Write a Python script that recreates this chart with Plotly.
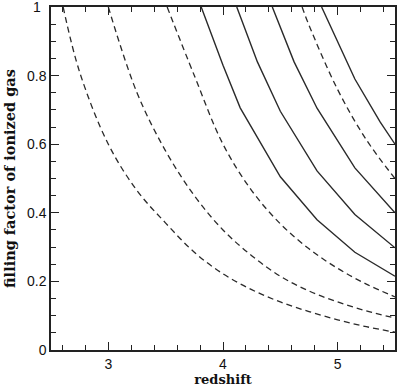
import plotly.graph_objects as go

# Dashed curves (smooth)
d1_z = [2.606, 2.75, 3.0, 3.25, 3.5, 3.75, 4.0, 4.25, 4.5, 4.75, 5.0, 5.25, 5.5]
d1_q = [1.0, 0.81, 0.60, 0.465, 0.37, 0.285, 0.222, 0.176, 0.14, 0.112, 0.088, 0.068, 0.052]
d2_z = [3.0, 3.25, 3.5, 3.75, 4.0, 4.25, 4.5, 4.75, 5.0, 5.25, 5.5]
d2_q = [1.0, 0.75, 0.58, 0.45, 0.35, 0.275, 0.215, 0.172, 0.14, 0.114, 0.093]
d3_z = [3.513, 3.75, 4.0, 4.25, 4.5, 4.75, 5.0, 5.25, 5.5]
d3_q = [1.0, 0.80, 0.60, 0.465, 0.368, 0.295, 0.238, 0.192, 0.155]
d4_z = [4.69, 4.75, 5.0, 5.25, 5.5]
d4_q = [1.0, 0.947, 0.759, 0.613, 0.50]

# Solid curves (piecewise)
s1_z = [3.81, 4.0, 4.15, 4.5, 4.82, 5.15, 5.5]
s1_q = [1.0, 0.83, 0.706, 0.505, 0.38, 0.285, 0.215]
s2_z = [4.12, 4.3, 4.5, 4.82, 5.15, 5.5]
s2_q = [1.0, 0.84, 0.696, 0.522, 0.395, 0.298]
s3_z = [4.43, 4.62, 4.82, 5.15, 5.5]
s3_q = [1.0, 0.84, 0.705, 0.531, 0.40]
s4_z = [4.86, 5.15, 5.37, 5.5]
s4_q = [1.0, 0.79, 0.665, 0.60]

x_ticks = [3, 4, 5]
y_ticks = [0, 0.2, 0.4, 0.6, 0.8]
y_labels = ["0", "0.2", "0.4", "0.6", "0.8"]
y_top_tick = 1
y_top_label = "1"

line_col = "#2a2a2a"
fig = go.Figure()
for z, q in [(d1_z, d1_q), (d2_z, d2_q), (d3_z, d3_q), (d4_z, d4_q)]:
    fig.add_trace(go.Scatter(x=z, y=q, mode="lines",
                             line=dict(color=line_col, width=1.3, dash="6px,4px", shape="spline"),
                             showlegend=False, hoverinfo="skip"))
for z, q in [(s1_z, s1_q), (s2_z, s2_q), (s3_z, s3_q), (s4_z, s4_q)]:
    fig.add_trace(go.Scatter(x=z, y=q, mode="lines",
                             line=dict(color=line_col, width=1.4),
                             showlegend=False, hoverinfo="skip"))

tick_font = dict(family="Liberation Sans", size=14, color="#111111")
axis_common = dict(
    showline=True, linecolor="#222222", linewidth=1.5, mirror="ticks",
    ticks="inside", ticklen=8, tickwidth=1.2, tickcolor="#222222",
    showgrid=False, zeroline=False, automargin=False,
    tickfont=tick_font,
)
fig.update_xaxes(range=[2.5, 5.5], tickvals=x_ticks,
                 minor=dict(dtick=0.2, tick0=2.6, ticks="inside", ticklen=5, tickwidth=1, tickcolor="#222222", showgrid=False),
                 title=dict(text="redshift", font=dict(family="DejaVu Serif", size=13, color="#111111", weight="bold"), standoff=0),
                 **axis_common)
fig.update_yaxes(range=[0, 1], tickvals=y_ticks + [y_top_tick], ticktext=y_labels + [""],
                 minor=dict(dtick=0.05, ticks="inside", ticklen=5, tickwidth=1, tickcolor="#222222", showgrid=False),
                 title=dict(text="filling factor of ionized gas", font=dict(family="DejaVu Serif", size=14.5, color="#111111", weight="bold"), standoff=8),
                 **axis_common)
fig.add_annotation(x=0, xref="paper", y=y_top_tick, yref="y", text=y_top_label,
                   showarrow=False, xanchor="right", yanchor="middle", xshift=-8,
                   font=tick_font)
fig.update_layout(width=400, height=387, margin=dict(l=51, r=5, t=7, b=37),
                  plot_bgcolor="white", paper_bgcolor="white")
fig.write_html("out.html", config={"displayModeBar": False},
               post_script="document.body.style.margin='0';")
